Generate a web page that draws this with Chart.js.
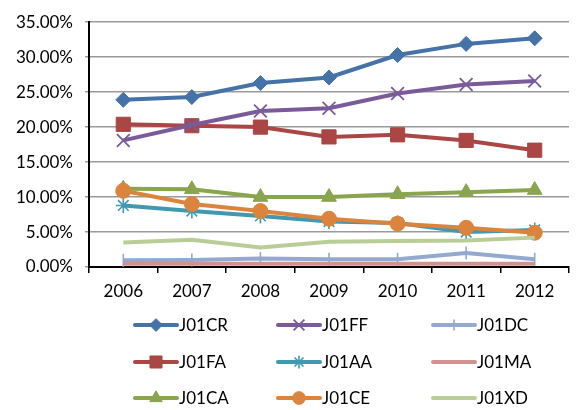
<!DOCTYPE html>
<html>
<head>
<meta charset="utf-8">
<script src="https://cdn.jsdelivr.net/npm/chart.js@4/dist/chart.umd.min.js"></script>
<style>
  html, body { margin: 0; padding: 0; background: #fff; }
  #c { display: block; }
</style>
</head>
<body>
<canvas id="c" width="580" height="410"></canvas>
<script>
// Years on the category axis
const years = ['2006', '2007', '2008', '2009', '2010', '2011', '2012'];

// Share per ATC group, in percent
const j01CR = [23.9, 24.3, 26.3, 27.1, 30.3, 31.9, 32.7];
const j01FF = [18.1, 20.3, 22.3, 22.7, 24.8, 26.1, 26.6];
const j01DC = [0.95, 1.0, 1.2, 1.1, 1.1, 2.0, 1.1];
const j01FA = [20.4, 20.2, 20.0, 18.6, 18.9, 18.1, 16.7];
const j01AA = [8.8, 8.0, 7.3, 6.5, 6.3, 5.0, 5.3];
const j01MA = [0.45, 0.45, 0.45, 0.45, 0.45, 0.45, 0.45];
const j01CA = [11.2, 11.1, 10.0, 10.0, 10.4, 10.7, 11.0];
const j01CE = [10.9, 9.0, 8.0, 6.9, 6.2, 5.6, 4.9];
const j01XD = [3.5, 3.9, 2.8, 3.6, 3.7, 3.8, 4.2];

// Y axis range and step (percent)
const yMin = 0, yMax = 35, yStep = 5;

const FONT = 'Lato, "Liberation Sans", sans-serif';

function series(label, data, color, pointStyle, radius, borderW, drawWeight) {
  return {
    label, data,
    borderColor: color,
    backgroundColor: color,
    pointBackgroundColor: color,
    pointBorderColor: color,
    pointStyle: pointStyle,
    pointRadius: pointStyle ? radius : 0,
    pointBorderWidth: borderW,
    borderWidth: 4,
    tension: 0,
    fill: false,
    order: drawWeight
  };
}

// Datasets listed in legend order (three per row)
const datasets = [
  series('J01CR', j01CR, '#4572A7', 'rectRot', 7.5, 1, 9),
  series('J01FF', j01FF, '#7A5B9A', 'crossRot', 9, 1.8, 6),
  series('J01DC', j01DC, '#93A9CF', 'line', 6.5, 1.6, 3),
  series('J01FA', j01FA, '#AA4643', 'rect', 10, 1, 8),
  series('J01AA', j01AA, '#4198AF', 'star', 7.5, 1.6, 5),
  series('J01MA', j01MA, '#D19392', false, 0, 0, 2),
  series('J01CA', j01CA, '#89A54E', 'triangle', 8.5, 1, 7),
  series('J01CE', j01CE, '#DB843D', 'circle', 7.5, 1, 4),
  series('J01XD', j01XD, '#B9CD96', false, 0, 0, 1)
];
// J01DC uses a vertical tick marker
datasets[2].pointRotation = 90;

// Legend drawn as a fixed 3x3 grid below the axis
const gridLegend = {
  id: 'gridLegend',
  afterDraw(chart) {
    const ctx = chart.ctx;
    const colX = [135, 278, 433];
    const rowY = [325, 362, 398];
    const sample = 42;
    ctx.save();
    chart.data.datasets.forEach((ds, i) => {
      const x0 = colX[i % 3];
      const y = rowY[Math.floor(i / 3)];
      ctx.strokeStyle = ds.borderColor;
      ctx.lineWidth = 4;
      ctx.lineCap = 'round';
      ctx.beginPath();
      ctx.moveTo(x0, y);
      ctx.lineTo(x0 + sample, y);
      ctx.stroke();
      if (ds.pointStyle && ds.pointRadius > 0) {
        ctx.fillStyle = ds.pointBackgroundColor;
        ctx.strokeStyle = ds.pointBorderColor;
        ctx.lineWidth = ds.pointBorderWidth;
        ctx.lineCap = 'butt';
        Chart.helpers.drawPoint(ctx, {
          pointStyle: ds.pointStyle,
          rotation: ds.pointRotation || 0,
          radius: ds.pointRadius * 0.85,
          borderWidth: ds.pointBorderWidth
        }, x0 + sample / 2, y);
      }
      ctx.fillStyle = '#000';
      ctx.font = '17px ' + FONT;
      ctx.textAlign = 'left';
      ctx.textBaseline = 'middle';
      ctx.fillText(ds.label, x0 + sample + 2, y + 1);
    });
    ctx.restore();
  }
};

new Chart(document.getElementById('c'), {
  type: 'line',
  data: { labels: years, datasets },
  options: {
    responsive: false,
    animation: false,
    devicePixelRatio: 1,
    layout: { padding: { top: 12, right: 1, left: 0, bottom: 0 } },
    plugins: {
      legend: { display: false },
      tooltip: { enabled: false }
    },
    scales: {
      x: {
        offset: true,
        grid: {
          offset: true,
          drawOnChartArea: false,
          drawTicks: true,
          tickLength: 6,
          color: '#000',
          lineWidth: 1.5
        },
        border: { display: true, color: '#000', width: 2 },
        ticks: { color: '#000', font: { family: FONT, size: 17 }, padding: 8, maxRotation: 0 },
        afterFit(scale) { scale.height = 143; }
      },
      y: {
        min: yMin,
        max: yMax,
        grid: { color: '#9a9a9a', lineWidth: 1.5, drawTicks: true, tickLength: 4 },
        border: { display: true, color: '#000', width: 2 },
        ticks: {
          stepSize: yStep,
          color: '#000',
          padding: 12,
          font: { family: FONT, size: 17 },
          callback: v => v.toFixed(2) + '%'
        },
        afterFit(scale) { scale.width = 89; }
      }
    }
  },
  plugins: [gridLegend]
});
</script>
</body>
</html>
